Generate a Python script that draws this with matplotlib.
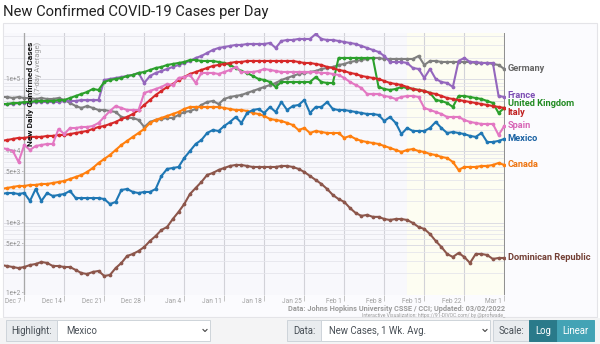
import matplotlib.pyplot as plt
import matplotlib.patches as mpatches
import matplotlib.lines as mlines
import matplotlib.ticker as mticker
import pandas as pd

plt.rcParams['font.family'] = ['Roboto', 'DejaVu Sans']

# daily dates, Dec 3 2021 .. Mar 1 2022 (7-day averages)
dates = pd.date_range('2021-12-03', '2022-03-01', freq='D')

germany = [56700, 56700, 54900, 56700,
           54900, 54900, 53200, 54900, 53200, 53200, 54900,
           51500, 46800, 42500, 39900, 42500, 39900, 37400,
           37400, 36200, 35100, 29900, 29000, 29000, 27200,
           21700, 25500, 27200, 28000, 29000, 29000, 31900,
           35100, 36200, 38600, 43900, 48300, 49900, 45300,
           53200, 56700, 58600, 60500, 64500, 68800, 73300,
           78100, 83300, 88800, 97800, 104300, 111100, 118500,
           122400, 126300, 130400, 139100, 143600, 148300, 158100,
           163200, 174000, 179700, 185500, 191600, 197800, 197800,
           191600, 191600, 191600, 191600, 191600, 191600, 210900,
           158100, 179700, 179700, 174000, 174000, 174000, 174000,
           174000, 174000, 168500, 168500, 168500, 163200, 158100,
           139100]
france = [43900, 45300, 45300, 46800,
          46800, 46800, 48300, 48300, 48300, 48300, 48300,
          49900, 49900, 49900, 51500, 51500, 51500, 51500,
          97800, 101000, 104300, 107600, 111100, 114800, 122400,
          88800, 111100, 122400, 130400, 139100, 148300, 158100,
          168500, 179700, 197800, 210900, 232200, 255600, 272500,
          281300, 290500, 300000, 300000, 309700, 309700, 309700,
          309700, 319800, 272500, 340900, 352000, 352000, 363500,
          363500, 363500, 426600, 363500, 352000, 352000, 340900,
          330200, 319800, 309700, 290500, 272500, 255600, 239700,
          210900, 174000, 174000, 174000, 168500, 143600, 139100,
          104300, 139100, 101000, 91700, 88800, 78100, 179700,
          197800, 174000, 174000, 168500, 168500, 168500, 58600,
          56700]
uk = [45300, 45300, 46800, 46800,
      48300, 48300, 49900, 49900, 49900, 49900, 51500,
      51500, 54900, 58600, 62500, 66600, 73300, 71000,
      91700, 97800, 101000, 104300, 111100, 114800, 122400,
      126300, 134700, 143600, 148300, 158100, 163200, 168500,
      174000, 185500, 185500, 179700, 179700, 179700, 174000,
      168500, 158100, 143600, 130400, 122400, 111100, 101000,
      97800, 91700, 78100, 91700, 91700, 91700, 91700,
      91700, 91700, 107600, 91700, 88800, 88800, 197800,
      197800, 197800, 197800, 197800, 197800, 197800, 78100,
      73300, 71000, 73300, 78100, 75700, 73300, 71000,
      68800, 64500, 51500, 49900, 46800, 41200, 58600,
      58600, 56700, 54900, 53200, 49900, 46800, 34000,
      39900]
italy = [13900, 14300, 14800, 15300,
         15300, 15800, 15800, 15800, 16300, 16300, 16800,
         16800, 17300, 17900, 18500, 19100, 20400, 21700,
         22400, 23900, 25500, 28000, 29900, 32900, 37400,
         43900, 51500, 60500, 68800, 78100, 86000, 97800,
         107600, 118500, 126300, 134700, 143600, 153100, 158100,
         163200, 168500, 174000, 174000, 179700, 179700, 179700,
         179700, 179700, 179700, 179700, 179700, 179700, 174000,
         168500, 168500, 163200, 158100, 148300, 143600, 134700,
         130400, 122400, 118500, 111100, 107600, 104300, 101000,
         94700, 88800, 86000, 83300, 78100, 73300, 71000,
         68800, 64500, 62500, 58600, 54900, 53200, 51500,
         49900, 48300, 46800, 45300, 43900, 42500, 41200,
         39900]
spain = [11100, 10700, 10060, 7080,
         12200, 10400, 11800, 12200, 12600, 12600, 20400,
         17300, 21000, 21000, 21700, 21700, 22400, 24700,
         29900, 36200, 42500, 39900, 37400, 37400, 37400,
         64500, 68800, 73300, 78100, 86000, 83300, 104300,
         107600, 114800, 88800, 122400, 122400, 122400, 118500,
         126300, 134700, 148300, 126300, 126300, 126300, 130400,
         139100, 134700, 130400, 126300, 126300, 126300, 126300,
         126300, 126300, 126300, 122400, 122400, 118500, 114800,
         104300, 91700, 83300, 75700, 62500, 62500, 62500,
         58600, 56700, 53200, 56700, 58600, 58600, 56700,
         39900, 37400, 35100, 32900, 29900, 29900, 29900,
         27200, 25500, 24700, 23900, 23900, 23900, 16800,
         22400]
mexico = [2540, 2620, 2620, 2540,
          2620, 2030, 2980, 2030, 2620, 2380, 2460,
          2540, 2800, 2230, 2230, 2230, 2230, 2230,
          2160, 1840, 1970, 2890, 2980, 2710, 2620,
          2710, 2710, 2980, 4520, 5660, 5840, 6030,
          8040, 10060, 12600, 14300, 17900, 19700, 19100,
          22400, 25500, 29900, 24700, 34000, 37400, 38600,
          34000, 41200, 35100, 48300, 37400, 42500, 43900,
          51500, 34000, 41200, 41200, 48300, 38600, 37400,
          37400, 36200, 35100, 34000, 32900, 32900, 31900,
          26300, 29900, 24700, 17300, 21000, 19100, 19100,
          19100, 21000, 25500, 21000, 17900, 18500, 17900,
          17300, 16300, 15800, 17900, 13400, 13400, 13900,
          14800]
canada = [2980, 3080, 3180, 3280,
          3280, 3390, 3390, 3500, 3500, 3610, 3730,
          3850, 4110, 4380, 4670, 5140, 5840, 6850,
          7790, 8850, 10400, 12200, 13900, 15800, 17900,
          20400, 24700, 27200, 29000, 30900, 32900, 35100,
          38600, 41200, 41200, 41200, 41200, 41200, 41200,
          39900, 38600, 37400, 37400, 36200, 34000, 32900,
          30900, 28000, 27200, 26300, 24700, 23100, 19700,
          21000, 17900, 19100, 18500, 17900, 17900, 17900,
          15300, 16300, 14800, 13900, 13400, 13000, 12600,
          11800, 11100, 10400, 9750, 10400, 10700, 10060,
          9750, 9140, 8850, 8310, 8040, 7080, 5480,
          6030, 6030, 6030, 6230, 6230, 6430, 6850,
          6430]
dominican = [261, 253, 245, 237,
             245, 261, 270, 288, 279, 253, 253,
             245, 245, 223, 202, 196, 209, 216,
             184, 190, 237, 279, 349, 372, 409,
             465, 564, 662, 802, 883, 1140, 1430,
             1840, 2540, 3080, 3730, 4670, 4980, 5480,
             5840, 6230, 6430, 6430, 6230, 6030, 6030,
             6030, 6030, 6030, 6230, 6230, 6030, 5660,
             5140, 4520, 3980, 3500, 2980, 2460, 2160,
             1970, 1620, 1380, 1260, 1300, 1220, 1220,
             1140, 1105, 1140, 1140, 1105, 1003, 883,
             828, 705, 564, 465, 372, 338, 384,
             338, 279, 372, 372, 360, 317, 327,
             327]

countries = ['Germany', 'France', 'United Kingdom', 'Italy', 'Spain',
             'Canada', 'Dominican Republic', 'Mexico']
values = [germany, france, uk, italy, spain, canada, dominican, mexico]
line_colors = ['#7f7f7f', '#9467bd', '#2ca02c', '#d62728', '#e377c2',
               '#ff7f0e', '#8c564b', '#1f77b4']
label_colors = ['#666666', '#7d4fb3', '#228b22', '#c01f1f', '#d765b5',
                '#ee7410', '#733f35', '#1a62a3']
label_shift = {'France': 1.3, 'United Kingdom': 2.9, 'Italy': -3.5}

week_ticks = pd.date_range('2021-12-07', '2022-03-01', freq='7D')
week_labels = ['Dec 7', 'Dec 14', 'Dec 21', 'Dec 28', 'Jan 4', 'Jan 11',
               'Jan 18', 'Jan 25', 'Feb 1', 'Feb 8', 'Feb 15', 'Feb 22',
               'Mar 1']
y_ticks = [1e5, 1e4, 5e3, 1e3, 5e2, 1e2]
y_labels = ['1e+5', '1e+4', '5e+3', '1e+3', '5e+2', '1e+2']


def px(x):
    return x / 600


def py(y):
    return 1 - y / 344


fig = plt.figure(figsize=(6, 3.44), dpi=100)
fig.patch.set_facecolor('white')

# chart panel and control bar backgrounds (behind the axes)
fig.patches.append(mpatches.Rectangle((px(3), py(317)), px(594), 294 / 344,
                                      transform=fig.transFigure, fc='#fbfbfe',
                                      ec='#e4e4e8', lw=0.8, zorder=-5))
fig.patches.append(mpatches.Rectangle((0, 0), 1, py(318), transform=fig.transFigure,
                                      fc='#f4f4f5', ec='none', zorder=-5))

fig.text(px(3), py(16), 'New Confirmed COVID-19 Cases per Day', fontsize=10.6,
         color='#222222', va='baseline')

ax = fig.add_axes([px(4), py(295), px(501), py(33) - py(295)])
ax.set_facecolor('#f8f8fc')
for s in ax.spines.values():
    s.set_visible(False)

# most recent days shaded
ax.axvspan(pd.Timestamp('2022-02-12'), dates[-1] + pd.Timedelta(hours=3),
           color='#fdfdf2', zorder=0)

ax.set_yscale('log')
ax.set_ylim(100, 4.4e5)
ax.set_xlim(dates[0] + pd.Timedelta(hours=11), dates[-1] + pd.Timedelta(hours=3))

ax.set_xticks(week_ticks)
ax.set_xticklabels([])
ax.tick_params(axis='x', length=4, width=0.6, color='#bbbbbb')
ax.yaxis.set_major_locator(mticker.FixedLocator([1e2, 5e2, 1e3, 5e3, 1e4, 5e4, 1e5]))
ax.yaxis.set_minor_locator(mticker.LogLocator(subs=(2, 3, 4, 6, 7, 8, 9), numticks=20))
ax.yaxis.set_major_formatter(mticker.NullFormatter())
ax.yaxis.set_minor_formatter(mticker.NullFormatter())
ax.tick_params(axis='y', which='both', length=0)
ax.grid(axis='x', color='#d2d2d8', lw=0.8)
ax.grid(axis='y', which='major', color='#dcdce3', lw=0.7)
ax.grid(axis='y', which='minor', color='#e6e6ec', lw=0.6)
ax.set_axisbelow(True)
ax.axvline(week_ticks[0], color='#a8a8a8', lw=0.9, zorder=1)
ax.axvline(dates[-1] + pd.Timedelta(hours=2), color='#8a8a8a', lw=1.3, zorder=1)

for d, lbl in zip(week_ticks, week_labels):
    ax.annotate(lbl, xy=(d, 0), xycoords=('data', 'axes fraction'),
                xytext=(-2, -2.0), textcoords='offset points', ha='right',
                va='top', fontsize=4.7, color='#a0a0a0')
for v, lbl in zip(y_ticks, y_labels):
    lift = 1.2 if v == 1e2 else 0
    ax.annotate(lbl + ' -', xy=(week_ticks[0], v), xytext=(-0.5, lift),
                textcoords='offset points', ha='right', va='center',
                fontsize=4.7, color='#909090')

for name, vals, lc, tc in zip(countries, values, line_colors, label_colors):
    ax.plot(dates, vals, color=lc, lw=1.5, marker='o', ms=2.7, mew=0,
            zorder=3)
    ax.annotate(name, xy=(dates[-1], vals[-1]),
                xytext=(2.5, label_shift.get(name, 0)), textcoords='offset points',
                ha='left', va='center', fontsize=6.7, fontweight='bold',
                color=tc, annotation_clip=False)

# axis title drawn inside the plot
title_top = (py(42) - py(295)) / (py(33) - py(295))
ax.text((px(31) - px(4)) / px(501), title_top, 'New Daily Confirmed Cases',
        transform=ax.transAxes, rotation=90, ha='center', va='top',
        fontsize=6.0, fontweight='bold', color='#111111', zorder=5)
ax.text((px(38) - px(4)) / px(501), title_top, '(7-day Average)',
        transform=ax.transAxes, rotation=90, ha='center', va='top',
        fontsize=5.3, color='#9a9a9a', zorder=5)

fig.text(px(505), py(309), 'Data: Johns Hopkins University CSSE / CCI; Updated: 03/02/2022',
         ha='right', va='center', fontsize=5.3, color='#9a9a9a', fontweight='bold')
fig.text(px(505), py(315.5), 'Interactive Visualization: https://91-DIVOC.com/ by @profwade_',
         ha='right', va='center', fontsize=3.6, color='#9a9a9a')


# control bar: highlight / data selectors and scale buttons
def box(x0, x1, fc, ec='#ced4da'):
    fig.add_artist(mpatches.Rectangle((px(x0), py(341)), px(x1 - x0), 21 / 344,
                                      transform=fig.transFigure, fc=fc, ec=ec, lw=0.7))


def chevron(xc):
    fig.add_artist(mlines.Line2D([px(xc - 2), px(xc), px(xc + 2)],
                                 [py(329.5), py(331.5), py(329.5)],
                                 transform=fig.transFigure, color='#444444', lw=0.8))


box(6, 57, '#e9ecef')
box(57, 210, 'white')
box(287, 321, '#e9ecef')
box(321, 490, 'white')
box(493, 529, '#e9ecef')
box(529, 557, '#2a7a8a', ec='#2a7a8a')
box(557, 594, '#43a3b5', ec='#43a3b5')
chevron(205)
chevron(485)
ctrl = dict(fontsize=6.9, color='#495057', va='center')
fig.text(px(31.5), py(330.5), 'Highlight:', ha='center', **ctrl)
fig.text(px(66), py(330.5), 'Mexico', ha='left', **ctrl)
fig.text(px(304), py(330.5), 'Data:', ha='center', **ctrl)
fig.text(px(329), py(330.5), 'New Cases, 1 Wk. Avg.', ha='left', **ctrl)
fig.text(px(511), py(330.5), 'Scale:', ha='center', **ctrl)
fig.text(px(543), py(330.5), 'Log', ha='center', fontsize=6.9, color='white', va='center')
fig.text(px(575.5), py(330.5), 'Linear', ha='center', fontsize=6.9, color='white', va='center')

fig.savefig('out.png', dpi=100)
